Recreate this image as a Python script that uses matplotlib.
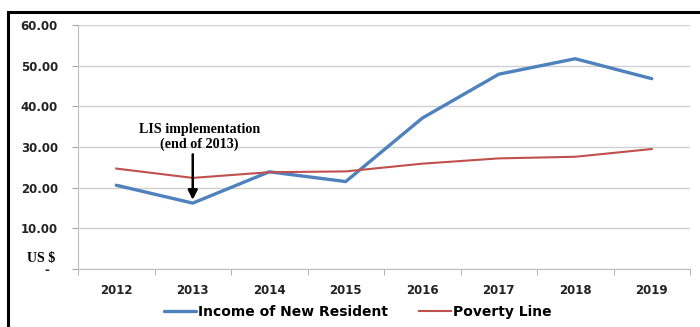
import matplotlib
matplotlib.use("Agg")
import matplotlib.pyplot as plt
from matplotlib.patches import Rectangle

years = ["2012", "2013", "2014", "2015", "2016", "2017", "2018", "2019"]
income = [20.6, 16.2, 23.9, 21.5, 37.1, 47.9, 51.7, 46.8]
poverty = [24.7, 22.4, 23.8, 24.0, 25.9, 27.2, 27.6, 29.5]
ytick_vals = [0, 10, 20, 30, 40, 50, 60]
ytick_labels = ["-  ", "10.00", "20.00", "30.00", "40.00", "50.00", "60.00"]

W, H = 700, 327
fig = plt.figure(figsize=(W / 100, H / 100), dpi=100)
fig.patch.set_facecolor("white")

# outer frame
fig.patches.append(Rectangle((8 / W, -0.1), 1.2, (H - 12) / H + 0.1,
                             transform=fig.transFigure, fill=False,
                             edgecolor="black", linewidth=2.2, zorder=10))

L, R, T, B = 78, 690, 25, 269
ax = fig.add_axes([L / W, (H - B) / H, (R - L) / W, (B - T) / H])

x = list(range(len(years)))
blue = "#4F81BD"
red = "#C0504D"
l1, = ax.plot(x, income, color=blue, linewidth=2.4, solid_capstyle="round",
              solid_joinstyle="round", zorder=3)
l2, = ax.plot(x, poverty, color=red, linewidth=1.5, zorder=3)

ax.set_xlim(-0.5, len(years) - 0.5)
ax.set_ylim(0, 60)
ax.set_yticks(ytick_vals)
ax.set_yticklabels(ytick_labels, fontsize=8.5, fontweight="bold",
                   family="DejaVu Sans", color="#222222")
ax.set_xticks(x)
ax.set_xticklabels(years, fontsize=8.5, fontweight="bold",
                   family="DejaVu Sans", color="#222222")
ax.set_xticks([i - 0.5 for i in range(len(years) + 1)], minor=True)
ax.tick_params(axis="x", which="major", length=0, pad=11)
ax.tick_params(axis="x", which="minor", length=4, color="#A6A6A6", direction="out")
ax.tick_params(axis="y", length=4, color="#A6A6A6", pad=10.5)

ax.grid(axis="y", color="#D0D0D0", linewidth=1.0)
ax.set_axisbelow(True)
for s in ["top", "right"]:
    ax.spines[s].set_visible(False)
ax.spines["left"].set_color("#BFBFBF")
ax.spines["bottom"].set_color("#BFBFBF")

ax.text(-0.98, 2.6, "US $", fontsize=10, fontweight="bold",
        family="Liberation Serif", ha="center", va="center", clip_on=False)

ax.annotate("", xy=(1, 17.0), xytext=(1, 28.2),
            arrowprops=dict(arrowstyle="-|>", color="black", lw=1.8,
                            mutation_scale=14, shrinkA=0, shrinkB=0))
ax.text(1.09, 32.5, "LIS implementation\n(end of 2013)", fontsize=10.2,
        fontweight="bold", family="Liberation Serif", ha="center",
        va="center", linespacing=1.1)

fig.legend([l1, l2], ["Income of New Resident", "Poverty Line"],
           loc="center", bbox_to_anchor=(358 / W, 1 - 312 / H), ncol=2,
           frameon=False, handlelength=2.3, handletextpad=0.15,
           columnspacing=2.2, prop=dict(family="DejaVu Sans", weight="bold", size=10))

fig.savefig("out.png", dpi=100, facecolor="white")
